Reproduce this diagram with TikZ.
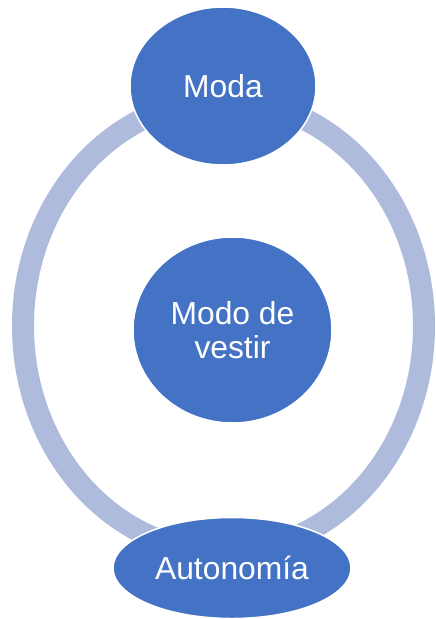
\documentclass[tikz,border=0pt]{standalone}
\usepackage{fontspec}
\setmainfont{Liberation Sans}
\usetikzlibrary{shapes.geometric}
\definecolor{nodeblue}{RGB}{68,114,196}
\definecolor{ringblue}{RGB}{175,187,221}
\tikzset{
  bubble/.style={ellipse, fill=nodeblue, draw=white, line width=1.5pt, inner sep=0pt,
    text=white, align=center, font=\fontsize{31.8}{34}\selectfont},
  ringline/.style={draw=ringblue, line width=22pt}
}
\begin{document}
\begin{tikzpicture}[x=1pt,y=-1pt]
\useasboundingbox (0,0) rectangle (436,619);
\draw[ringline] (223.5,326) ellipse [x radius=200.5, y radius=226];
\node[bubble, minimum width=186pt, minimum height=158pt] (moda) at (223,86) {Moda};
\node[bubble, minimum width=199pt, minimum height=186pt] (modo) at (232.5,330) {Modo de\\vestir};
\node[bubble, minimum width=238pt, minimum height=101pt] (auto) at (232,568) {Autonomía};
\end{tikzpicture}
\end{document}
